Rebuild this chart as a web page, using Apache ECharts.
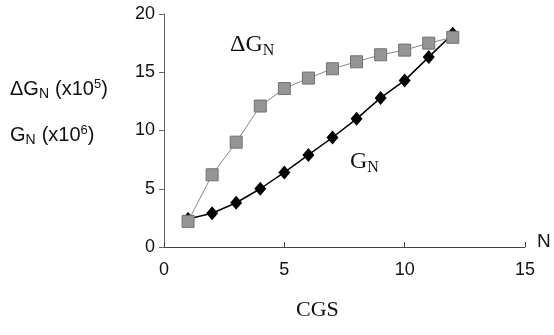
<!DOCTYPE html>
<html>
<head>
<meta charset="utf-8">
<script src="https://cdn.jsdelivr.net/npm/echarts@6/dist/echarts.min.js"></script>
<style>
html,body{margin:0;padding:0;background:#fff;}
#main{width:554px;height:335px;}
</style>
</head>
<body>
<div id="main"></div>
<script>
// N 值 (CGS)
var nValues = [1, 2, 3, 4, 5, 6, 7, 8, 9, 10, 11, 12];
// ΔG_N (x10^5)
var deltaG = [2.2, 6.2, 9.0, 12.1, 13.6, 14.5, 15.3, 15.9, 16.5, 16.9, 17.5, 18.0];
// G_N (x10^6)
var gN = [2.4, 2.9, 3.8, 5.0, 6.4, 7.9, 9.4, 11.0, 12.8, 14.3, 16.3, 18.3];
var xTicks = [0, 5, 10, 15];
var yTicks = [0, 5, 10, 15, 20];

function pairs(xs, ys){
	var out = [];
	for (var i = 0; i < xs.length; i++) out.push([xs[i], ys[i]]);
	return out;
}

var myChart = echarts.init(document.getElementById('main'));
var sans = 'Liberation Sans';
var serif = 'Liberation Serif';

// 轴标题的上下标样式
var richSans = {
	sub: { fontSize: 14, fontFamily: sans, color: '#111', padding: [10, 6, 0, 0] },
	sup: { fontSize: 13, fontFamily: sans, color: '#111', padding: [0, 0, 9, 0] }
};
var richSerif = {
	sub: { fontSize: 16, fontFamily: serif, color: '#111', padding: [11, 0, 0, 0] }
};

option = {
	animation: false,
	backgroundColor: '#fff',
	grid: { left: 164, right: 29, top: 14, bottom: 88 },
	xAxis: {
		type: 'value', min: xTicks[0], max: xTicks[xTicks.length - 1], interval: 5,
		axisLine: { lineStyle: { color: '#444', width: 1 } },
		axisTick: { inside: true, length: 5, lineStyle: { color: '#444' } },
		axisLabel: { color: '#111', fontFamily: sans, fontSize: 18, margin: 14 },
		splitLine: { show: false }
	},
	yAxis: {
		type: 'value', min: yTicks[0], max: yTicks[yTicks.length - 1], interval: 5,
		axisLine: { show: true, lineStyle: { color: '#666', width: 1 } },
		axisTick: { show: true, length: 5, lineStyle: { color: '#666' } },
		axisLabel: { color: '#111', fontFamily: sans, fontSize: 18, margin: 9 },
		splitLine: { show: false }
	},
	series: [
		{
			name: 'dG', type: 'line', data: pairs(nValues, deltaG),
			symbol: 'rect', symbolSize: 12,
			itemStyle: { color: '#959595', borderColor: '#707070', borderWidth: 1 },
			lineStyle: { color: '#888', width: 1 },
			z: 3
		},
		{
			name: 'G', type: 'line', data: pairs(nValues, gN),
			symbol: 'diamond', symbolSize: [12, 14],
			itemStyle: { color: '#000' },
			lineStyle: { color: '#000', width: 1.5 },
			z: 2
		}
	],
	graphic: [
		{ type: 'text', left: 10, top: 78, style: {
			text: 'ΔG{sub|N}(x10{sup|5})', fill: '#111', fontSize: 20, fontFamily: sans, rich: richSans
		} },
		{ type: 'text', left: 10, top: 124, style: {
			text: 'G{sub|N}(x10{sup|6})', fill: '#111', fontSize: 20, fontFamily: sans, rich: richSans
		} },
		{ type: 'text', left: 230, top: 33, style: {
			text: 'ΔG{sub|N}', fill: '#111', fontSize: 24, fontFamily: serif, rich: richSerif
		} },
		{ type: 'text', left: 350, top: 150, style: {
			text: 'G{sub|N}', fill: '#111', fontSize: 24, fontFamily: serif, rich: richSerif
		} },
		{ type: 'text', left: 537, top: 232, style: { text: 'N', fill: '#111', fontSize: 19, fontFamily: sans } },
		{ type: 'text', left: 296, top: 299, style: { text: 'CGS', fill: '#111', fontSize: 22, fontFamily: serif } }
	]
};
myChart.setOption(option);
</script>
</body>
</html>
